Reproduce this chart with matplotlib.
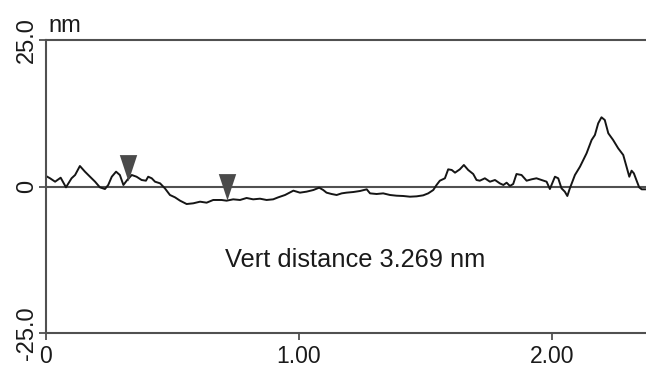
import numpy as np
from matplotlib import pyplot as plt
from matplotlib.path import Path

plt.rcParams['font.family'] = ['Liberation Sans', 'DejaVu Sans']

# section profile, position in um and height in nm
pos_um = [0.000, 0.016, 0.036, 0.058, 0.079, 0.101, 0.115, 0.134, 0.154, 0.174,
          0.194, 0.213, 0.233, 0.246, 0.260, 0.277, 0.292, 0.306, 0.321, 0.339,
          0.358, 0.378, 0.395, 0.404, 0.418, 0.431, 0.451, 0.470, 0.490, 0.510,
          0.530, 0.556, 0.582, 0.609, 0.635, 0.661, 0.694, 0.714, 0.740, 0.767,
          0.793, 0.819, 0.846, 0.872, 0.898, 0.918, 0.945, 0.978, 1.004, 1.030,
          1.057, 1.080, 1.096, 1.109, 1.129, 1.149, 1.169, 1.188, 1.215, 1.241,
          1.268, 1.281, 1.307, 1.333, 1.360, 1.386, 1.412, 1.439, 1.465, 1.491,
          1.511, 1.531, 1.544, 1.557, 1.577, 1.590, 1.604, 1.617, 1.636, 1.652,
          1.669, 1.689, 1.702, 1.715, 1.735, 1.755, 1.775, 1.794, 1.808, 1.821,
          1.834, 1.847, 1.860, 1.880, 1.900, 1.920, 1.939, 1.959, 1.979, 1.992,
          2.012, 2.025, 2.038, 2.051, 2.061, 2.071, 2.091, 2.111, 2.137, 2.157,
          2.170, 2.183, 2.196, 2.209, 2.223, 2.242, 2.262, 2.282, 2.295, 2.306,
          2.315, 2.324, 2.335, 2.345, 2.355, 2.368]
height_nm = [1.79, 1.40, 0.82, 1.50, -0.14, 1.40, 1.96, 3.50, 2.53, 1.67,
             0.82, -0.14, -0.43, 0.26, 1.67, 2.53, 1.96, 0.26, 1.11, 1.96,
             1.67, 1.11, 0.99, 1.67, 1.40, 0.82, 0.54, -0.31, -1.45, -1.85,
             -2.42, -2.99, -2.87, -2.59, -2.76, -2.30, -2.30, -2.42, -2.19, -2.30,
             -1.96, -2.19, -2.08, -2.30, -2.19, -1.85, -1.45, -0.71, -1.05, -0.88,
             -0.60, -0.20, -0.60, -1.05, -1.28, -1.45, -1.17, -1.05, -0.94, -0.77,
             -0.48, -1.17, -1.28, -1.17, -1.45, -1.57, -1.62, -1.74, -1.68, -1.51,
             -1.17, -0.60, 0.26, 0.99, 1.40, 2.93, 2.82, 2.36, 2.93, 3.67,
             2.82, 2.13, 1.11, 0.99, 1.40, 0.82, 1.11, 0.54, 0.26, 0.65,
             0.09, 0.43, 2.13, 1.96, 0.99, 1.23, 1.40, 1.11, 0.82, -0.43,
             1.67, 1.40, -0.31, -0.88, -1.62, -0.31, 1.96, 3.38, 5.66, 7.94,
             8.79, 10.78, 11.81, 11.35, 9.08, 7.94, 6.52, 5.38, 3.38, 1.67,
             2.70, 2.25, 0.99, -0.14, -0.48, -0.48]

# the two cursors
cursor_x = [0.324, 0.715]
cursor_h = [0.90, -2.369]
vert_dist = cursor_h[0] - cursor_h[1]

xticks = [0, 1, 2]
xticklabels = ['0', '1.00', '2.00']
yticks = [25, 0, -25]
yticklabels = ['25.0', '0', '-25.0']

grey = '#505050'

fig = plt.figure(figsize=(6.46, 3.68), dpi=100)
ax = fig.add_axes([46/646, 35/368, 600/646, 293/368])

ax.axhline(0, color=grey, lw=1.5, zorder=1)
ax.plot(pos_um, height_nm, color='#151515', lw=1.4, zorder=2)

# downward triangle with its tip on the point
tri = Path([(-0.33, 1.0), (0.33, 1.0), (0.0, 0.0), (-0.33, 1.0)],
           [Path.MOVETO, Path.LINETO, Path.LINETO, Path.CLOSEPOLY])
ax.plot(cursor_x, cursor_h, ls='none', marker=tri, ms=38,
        color='#4a4a4a', mec='none', zorder=3)

ax.text(0.708, -13.7, 'Vert distance %.3f nm' % vert_dist,
        fontsize=18.3, ha='left', va='baseline', color='#1a1a1a')

ax.set_xlim(0, 2.372)
ax.set_ylim(-25, 25)
ax.set_xticks(xticks)
ax.set_xticklabels(xticklabels, fontsize=16.5)
ax.set_yticks(yticks)
ax.set_yticklabels(yticklabels, fontsize=17, rotation=90, va='center')

ax.spines['right'].set_visible(False)
for s in ['left', 'top', 'bottom']:
    ax.spines[s].set_color(grey)
    ax.spines[s].set_linewidth(1.5)
ax.tick_params(axis='both', direction='out', length=5, width=1.3,
               color=grey, labelcolor='#1a1a1a')
ax.tick_params(axis='x', pad=3.5)
ax.tick_params(axis='y', pad=1)

fig.text(48/646, 1 - 32/368, 'nm', fontsize=17, ha='left', va='baseline',
         color='#1a1a1a')

fig.savefig('out.png', dpi=100)
